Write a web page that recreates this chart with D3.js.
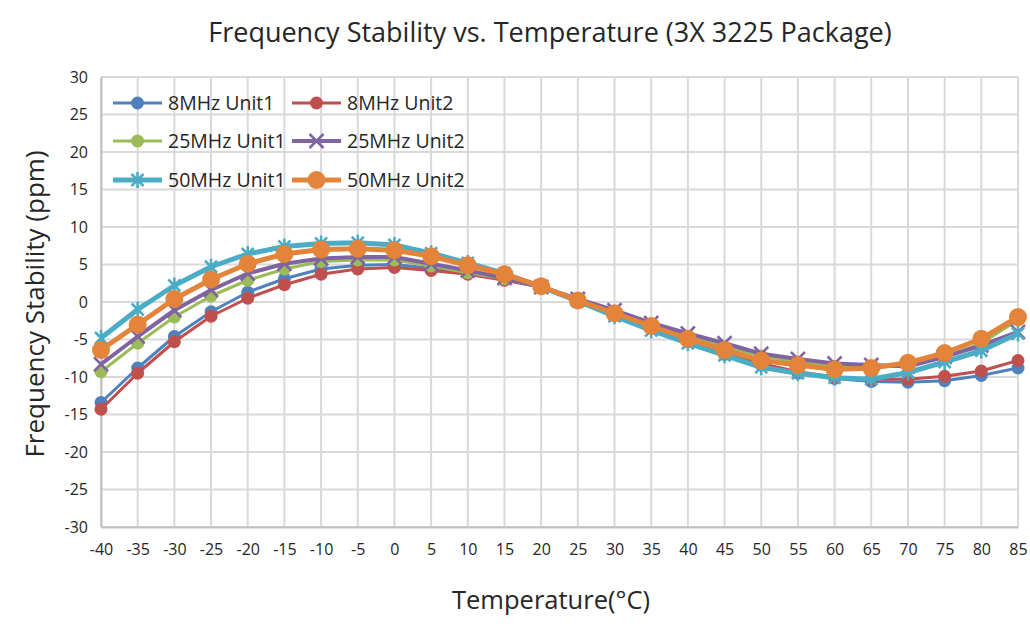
<!DOCTYPE html>
<html>
<head>
<meta charset="utf-8">
<script src="https://cdn.jsdelivr.net/npm/d3@7"></script>
<style>
  html, body { margin: 0; padding: 0; background: #fff; }
  svg { display: block; }
  text { font-family: "Open Sans", "Noto Sans", sans-serif; fill: #262626; }
</style>
</head>
<body>
<svg id="chart" width="1030" height="641"></svg>
<script>
// ---- data ----
const temperatures = [-40,-35,-30,-25,-20,-15,-10,-5,0,5,10,15,20,25,30,35,40,45,50,55,60,65,70,75,80,85];
const yTicks = [30,25,20,15,10,5,0,-5,-10,-15,-20,-25,-30];
const seriesNames = ["8MHz Unit1","8MHz Unit2","25MHz Unit1","25MHz Unit2","50MHz Unit1","50MHz Unit2"];
const mhz8Unit1  = [-13.4,-8.8,-4.6,-1.3,1.3,3.1,4.4,4.9,5.0,4.5,3.9,3.0,2.0,0.3,-1.5,-3.4,-5.3,-7.0,-8.4,-9.5,-10.2,-10.6,-10.7,-10.5,-9.8,-8.8];
const mhz8Unit2  = [-14.3,-9.5,-5.3,-1.9,0.5,2.3,3.7,4.4,4.6,4.2,3.7,2.9,2.0,0.3,-1.5,-3.3,-5.1,-6.8,-8.2,-9.3,-10.0,-10.3,-10.3,-9.9,-9.2,-7.8];
const mhz25Unit1 = [-9.3,-5.5,-2.0,0.8,2.9,4.4,5.4,5.6,5.6,4.8,3.9,3.1,2.0,0.3,-1.3,-3.0,-4.6,-6.0,-7.2,-8.0,-8.6,-8.7,-8.5,-7.4,-5.5,-2.4];
const mhz25Unit2 = [-8.3,-4.6,-1.1,1.6,3.8,5.1,5.8,6.0,6.0,5.1,4.2,3.2,2.0,0.4,-1.1,-2.8,-4.2,-5.5,-6.9,-7.6,-8.2,-8.4,-8.6,-7.3,-5.8,-4.0];
const mhz50Unit1 = [-4.8,-1.0,2.2,4.7,6.4,7.4,7.8,7.9,7.6,6.5,5.2,3.8,2.0,0.1,-1.9,-3.8,-5.5,-7.1,-8.7,-9.5,-10.1,-10.3,-9.4,-8.0,-6.5,-4.2];
const mhz50Unit2 = [-6.4,-3.0,0.4,3.0,5.1,6.4,7.0,7.1,6.9,6.1,4.9,3.7,2.1,0.2,-1.5,-3.2,-4.9,-6.4,-7.8,-8.4,-9.0,-8.8,-8.1,-6.8,-4.9,-2.0];
const seriesValues = [mhz8Unit1, mhz8Unit2, mhz25Unit1, mhz25Unit2, mhz50Unit1, mhz50Unit2];

// ---- styles ----
const styles = [
  {color:"#4F81BD", width:3, marker:"circle", size:6.5},
  {color:"#C0504D", width:3, marker:"circle", size:6.5},
  {color:"#9BBB59", width:3, marker:"circle", size:6.5},
  {color:"#8064A2", width:4, marker:"x", size:7},
  {color:"#4BACC6", width:5, marker:"star", size:8},
  {color:"#E3843A", width:5, marker:"circle", size:9}
];

const svg = d3.select("#chart");
const plotLeft = 101, plotRight = 1018, plotTop = 77, plotBottom = 527;

const x = d3.scaleLinear().domain([-40, 85]).range([plotLeft, plotRight]);
const y = d3.scaleLinear().domain([-30, 30]).range([plotBottom, plotTop]);

// gridlines
const grid = svg.append("g");
grid.selectAll("line.h").data(yTicks).enter().append("line")
  .attr("x1", plotLeft).attr("x2", plotRight)
  .attr("y1", d => y(d)).attr("y2", d => y(d))
  .attr("stroke", "#d9d9d9").attr("stroke-width", 2);
grid.selectAll("line.v").data(temperatures).enter().append("line")
  .attr("x1", d => x(d)).attr("x2", d => x(d))
  .attr("y1", plotTop).attr("y2", plotBottom)
  .attr("stroke", "#d9d9d9").attr("stroke-width", 2);

// axes
const fmt = d => String(d);
const yAxis = d3.axisLeft(y).tickValues(yTicks).tickSize(0).tickPadding(13).tickFormat(fmt);
const gy = svg.append("g").attr("transform", `translate(${plotLeft},0)`).call(yAxis);
gy.select(".domain").attr("stroke", "#bfbfbf").attr("stroke-width", 2);
gy.selectAll("text").style("font-size", "16px").style("font-family", "'Open Sans', sans-serif").attr("fill", "#333");

const xAxis = d3.axisBottom(x).tickValues(temperatures).tickSize(0).tickPadding(17).tickFormat(fmt);
const gx = svg.append("g").attr("transform", `translate(0,${plotBottom})`).call(xAxis);
gx.select(".domain").attr("stroke", "#bfbfbf").attr("stroke-width", 2);
gx.selectAll("text").style("font-size", "16px").style("font-family", "'Open Sans', sans-serif").attr("fill", "#333");

// marker drawing
function drawMarker(g, st, cx, cy) {
  if (st.marker === "circle") {
    g.append("circle").attr("cx", cx).attr("cy", cy).attr("r", st.size).attr("fill", st.color);
  } else if (st.marker === "x") {
    const s = st.size;
    g.append("path").attr("d", `M${cx-s},${cy-s}L${cx+s},${cy+s}M${cx-s},${cy+s}L${cx+s},${cy-s}`)
      .attr("stroke", st.color).attr("stroke-width", 2.5).attr("fill", "none");
  } else if (st.marker === "star") {
    const s = st.size, d = s * 0.75;
    g.append("path").attr("d", `M${cx},${cy-s}L${cx},${cy+s}M${cx-d},${cy-d}L${cx+d},${cy+d}M${cx-d},${cy+d}L${cx+d},${cy-d}`)
      .attr("stroke", st.color).attr("stroke-width", 2.5).attr("fill", "none");
  }
}

// series
const line = d3.line().x((d, i) => x(temperatures[i])).y(d => y(d));
seriesValues.forEach((vals, si) => {
  const st = styles[si];
  const g = svg.append("g");
  g.append("path").datum(vals).attr("d", line)
    .attr("fill", "none").attr("stroke", st.color).attr("stroke-width", st.width)
    .attr("stroke-linejoin", "round");
  vals.forEach((v, i) => drawMarker(g, st, x(temperatures[i]), y(v)));
});

// legend
const legendCols = [113, 292];
const legendRows = [103, 141, 180];
seriesNames.forEach((name, i) => {
  const st = styles[i];
  const lx = legendCols[i % 2], ly = legendRows[Math.floor(i / 2)];
  const g = svg.append("g");
  g.append("line").attr("x1", lx).attr("x2", lx + 49).attr("y1", ly).attr("y2", ly)
    .attr("stroke", st.color).attr("stroke-width", st.width);
  drawMarker(g, st, lx + 24.5, ly);
  g.append("text").attr("x", lx + 55).attr("y", ly).attr("dy", "0.35em")
    .style("font-size", "19.5px").text(name);
});

// titles
svg.append("text").attr("x", 550).attr("y", 33).attr("dy", "0.35em")
  .attr("text-anchor", "middle").style("font-size", "27px")
  .text("Frequency Stability vs. Temperature (3X 3225 Package)");
svg.append("text").attr("transform", "translate(35,304) rotate(-90)").attr("dy", "0.35em")
  .attr("text-anchor", "middle").style("font-size", "26px")
  .text("Frequency Stability (ppm)");
svg.append("text").attr("x", 551).attr("y", 600).attr("dy", "0.35em")
  .attr("text-anchor", "middle").style("font-size", "25.5px")
  .text("Temperature(°C)");
</script>
</body>
</html>
